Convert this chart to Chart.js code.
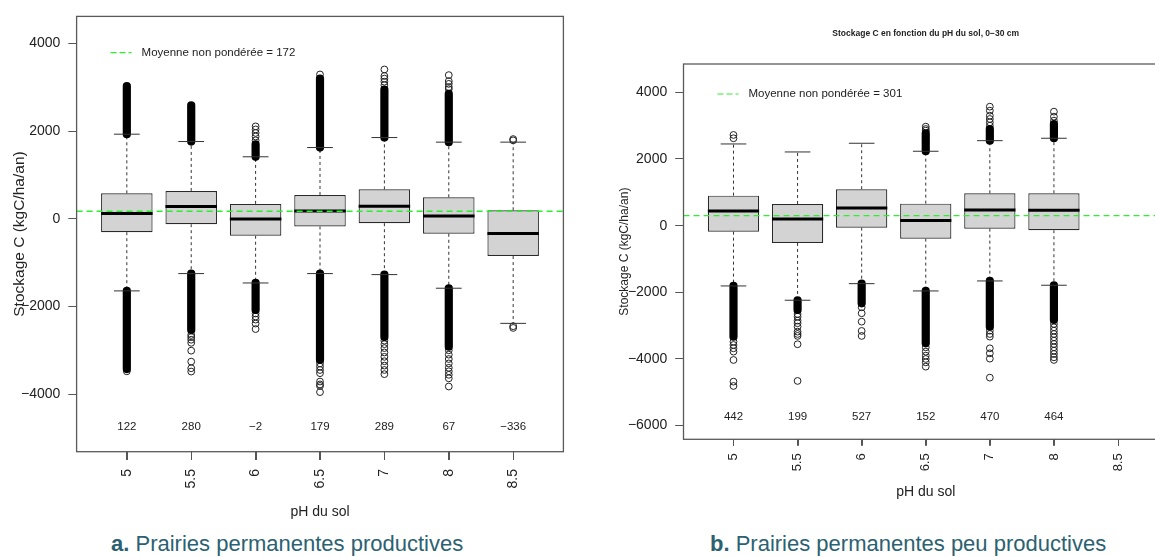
<!DOCTYPE html>
<html>
<head>
<meta charset="utf-8">
<script src="https://cdn.jsdelivr.net/npm/chart.js@4.4.1/dist/chart.umd.min.js"></script>
<style>
  body { margin: 0; width: 1155px; height: 557px; overflow: hidden; background: #fff; position: relative; font-family: "Liberation Sans", Arial, sans-serif; }
  canvas { position: absolute; top: 0; }
  #chartA { left: 0; }
  #chartB { left: 580px; }
  .caption { position: absolute; top: 533px; font-size: 22px; line-height: 22px; color: #2b6171; text-align: center; white-space: nowrap; }
</style>
</head>
<body>
<canvas id="chartA" width="580" height="530"></canvas>
<canvas id="chartB" width="600" height="510"></canvas>
<div class="caption" style="left:111px;width:350px"><b>a.</b> Prairies permanentes productives</div>
<div class="caption" style="left:710px;width:392px"><b>b.</b> Prairies permanentes peu productives</div>
<script>
// pH classes (x axis)
const phLabels = ['5', '5.5', '6', '6.5', '7', '8', '8.5'];

// a. Prairies permanentes productives
const q1A = [-305, -123, -386, -175, -100, -341, -850];
const medianA = [122, 280, -2, 179, 289, 67, -336];
const q3A = [582, 636, 341, 545, 673, 491, 195];
const whiskerLowA = [-1645, -1250, -1464, -1250, -1273, -1584, -2386];
const whiskerHighA = [1932, 1764, 1416, 1627, 1855, 1750, 1750];
// ranges where the outlier circles overlap into a solid stack
const denseHighA = [[1932, 3030], [1764, 2590], [1416, 1700], [1627, 3200], [1855, 2950], [1750, 2850], null];
const denseLowA = [[-1645, -3430], [-1250, -2540], [-1464, -2080], [-1250, -3220], [-1273, -2700], [-1584, -2920], null];
const outliersA = [
  [-3480],
  [-2650, -2700, -2760, -2830, -3009, -3259, -3410, -3486],
  [1790, 1880, 1960, 2040, 2110, -2160, -2230, -2300, -2390, -2516],
  [3295, -3300, -3373, -3450, -3523, -3714, -3780, -3814, -3955],
  [3050, 3130, 3200, 3260, 3409, -2780, -2860, -2950, -3050, -3150, -3250, -3350, -3450, -3545],
  [2960, 3007, 3080, 3144, 3280, -3000, -3100, -3200, -3300, -3400, -3480, -3560, -3640, -3827],
  [1790, 1820, -2450, -2490]
];
const meanA = 172;
const yTicksA = [-4000, -2000, 0, 2000, 4000];

// b. Prairies permanentes peu productives (no data for pH 8.5)
const q1B = [-180, -519, -60, -390, -90, -138];
const medianB = [442, 199, 527, 152, 470, 464];
const q3B = [900, 651, 1092, 660, 972, 972];
const whiskerLowB = [-1809, -2238, -1740, -1959, -1659, -1788];
const whiskerHighB = [2451, 2211, 2472, 2232, 2550, 2622];
const denseHighB = [null, null, null, [2232, 2770], [2550, 2900], [2622, 3050]];
const denseLowB = [[-1809, -3330], [-2238, -2529], [-1740, -2330], [-1959, -3530], [-1659, -3030], [-1788, -2830]];
const outliersB = [
  [2622, 2721, -3480, -3580, -3680, -3780, -4030, -4680, -4810],
  [-2650, -2730, -2850, -2928, -3030, -3180, -3250, -3309, -3558, -4659],
  [-2450, -2628, -2880, -3159, -3309],
  [2850, 2900, 2970, -3650, -3780, -3900, -4000, -4100, -4230],
  [3000, 3100, 3200, 3300, 3450, 3570, -3150, -3250, -3330, -3680, -3830, -3990, -4560],
  [3150, 3270, 3420, -2950, -3050, -3150, -3250, -3350, -3450, -3550, -3650, -3750, -3850, -3950, -4029]
];
const meanB = 301;
const yTicksB = [-6000, -4000, -2000, 0, 2000, 4000];

const X_MIN = 0.22, X_MAX = 7.78;
const FONT = '"Liberation Sans", Arial, sans-serif';
const INK = '#222';
const MEAN_GREEN = '#2cf02c';

Chart.defaults.font.family = FONT;
Chart.defaults.color = INK;

function fmt(v) {
  return v < 0 ? '\u2212' + Math.abs(v) : String(v);
}

// half of a width given in x units, in pixels
function halfPx(chart, units) {
  const x = chart.scales.x;
  return (x.getPixelForValue(1 + units) - x.getPixelForValue(1)) / 2;
}

// vertical segments at each category, separated by gaps
function segments(pairs) {
  const pts = [];
  pairs.forEach((p, i) => {
    if (!p) return;
    pts.push({ x: i + 1, y: p[0] }, { x: i + 1, y: p[1] }, { x: i + 1, y: null });
  });
  return pts;
}

const annotate = {
  id: 'annotate',
  afterDraw(chart, args, o) {
    const { ctx, chartArea: a, scales: { x, y } } = chart;
    ctx.save();
    // frame
    ctx.strokeStyle = '#5a5a5a';
    ctx.lineWidth = 1.3;
    ctx.strokeRect(a.left, a.top, a.right - a.left, a.bottom - a.top);
    // x tick marks under the frame
    ctx.strokeStyle = '#555';
    ctx.lineWidth = 1;
    x.ticks.forEach(t => {
      const px = Math.round(x.getPixelForValue(t.value)) + 0.5;
      ctx.beginPath();
      ctx.moveTo(px, a.bottom);
      ctx.lineTo(px, a.bottom + o.xTickLen);
      ctx.stroke();
    });
    // legend
    const ly = a.top + o.legendDy;
    ctx.strokeStyle = MEAN_GREEN;
    ctx.lineWidth = 1.2;
    ctx.setLineDash([6, 3]);
    ctx.beginPath();
    ctx.moveTo(a.left + 34, ly);
    ctx.lineTo(a.left + 55, ly);
    ctx.stroke();
    ctx.setLineDash([]);
    ctx.fillStyle = INK;
    ctx.font = '11.5px ' + FONT;
    ctx.textAlign = 'left';
    ctx.textBaseline = 'middle';
    ctx.fillText(o.legend, a.left + 65, ly);
    // medians written under the boxes
    ctx.textAlign = 'center';
    ctx.font = o.numSize + 'px ' + FONT;
    o.labels.forEach((t, i) => ctx.fillText(t, x.getPixelForValue(i + 1), y.getPixelForValue(o.labelY)));
    // title
    if (o.title) {
      ctx.font = 'bold 8.5px ' + FONT;
      ctx.fillText(o.title, (a.left + a.right) / 2, o.titleY);
    }
    ctx.restore();
  }
};

function boxChart(id, d, s) {
  const idx = d.q1.map((_, i) => i + 1);
  const whiskers = segments(idx.map((_, i) => [d.q3[i], d.hi[i]]))
    .concat(segments(idx.map((_, i) => [d.q1[i], d.lo[i]])));
  const outPts = [];
  d.out.forEach((list, i) => list.forEach(v => outPts.push({ x: i + 1, y: v })));

  return new Chart(document.getElementById(id), {
    type: 'bar',
    data: {
      datasets: [
        {
          type: 'line', order: 0,
          data: [{ x: X_MIN, y: d.mean }, { x: X_MAX, y: d.mean }],
          borderColor: MEAN_GREEN, borderWidth: 1.4, borderDash: [6, 4], pointRadius: 0
        },
        {
          type: 'line', order: 1, showLine: false,
          data: d.median.map((v, i) => ({ x: i + 1, y: v })),
          pointStyle: 'line', pointRadius: c => halfPx(c.chart, 0.8),
          borderColor: '#000', pointBorderColor: '#000', pointBorderWidth: 3
        },
        {
          type: 'line', order: 2, showLine: false,
          data: d.hi.map((v, i) => ({ x: i + 1, y: v })).concat(d.lo.map((v, i) => ({ x: i + 1, y: v }))),
          pointStyle: 'line', pointRadius: c => halfPx(c.chart, 0.4),
          pointBorderColor: '#333', pointBorderWidth: 1
        },
        {
          type: 'line', order: 2,
          data: segments(d.denseHi).concat(segments(d.denseLo)),
          borderColor: '#000', borderWidth: 8.2, borderCapStyle: 'round', pointRadius: 0, spanGaps: false
        },
        {
          type: 'line', order: 2, showLine: false,
          data: outPts,
          pointStyle: 'circle', pointRadius: 3.4, pointBorderWidth: 1,
          pointBorderColor: '#222', pointBackgroundColor: 'rgba(0,0,0,0)'
        },
        {
          type: 'bar', order: 3,
          data: d.q1.map((v, i) => ({ x: i + 1, y: [v, d.q3[i]] })),
          backgroundColor: '#d3d3d3', borderColor: '#2a2a2a', borderWidth: 1.2, borderSkipped: false,
          barPercentage: 0.8, categoryPercentage: 1, grouped: false
        },
        {
          type: 'line', order: 4,
          data: whiskers,
          borderColor: '#333', borderWidth: 1, borderDash: [3, 3], pointRadius: 0, spanGaps: false
        }
      ]
    },
    options: {
      responsive: false,
      animation: false,
      devicePixelRatio: 1,
      events: [],
      layout: { padding: { top: s.top, right: s.right, bottom: s.bottom, left: 0 } },
      plugins: {
        legend: { display: false },
        tooltip: { enabled: false },
        annotate: {
          legend: 'Moyenne non pondérée = ' + d.mean,
          legendDy: s.legendDy,
          labels: d.median.map(fmt),
          labelY: s.labelY,
          numSize: s.numSize,
          xTickLen: s.xTickLen,
          title: s.title,
          titleY: s.titleY
        }
      },
      scales: {
        x: {
          type: 'linear', min: X_MIN, max: X_MAX, offset: false,
          afterBuildTicks: ax => { ax.ticks = phLabels.map((_, i) => ({ value: i + 1 })); },
          afterFit: ax => { ax.height = s.xHeight; },
          ticks: {
            autoSkip: false, minRotation: 90, maxRotation: 90, padding: s.xPad,
            font: { size: s.xTickSize }, color: INK,
            callback: (v, i) => phLabels[i]
          },
          grid: { offset: false, drawOnChartArea: false, tickLength: s.xTickLen, tickColor: '#555', tickWidth: 1 },
          border: { display: false },
          title: { display: true, text: 'pH du sol', color: INK, font: { size: 14 }, padding: { top: 0, bottom: 0 } }
        },
        y: {
          min: s.yMin, max: s.yMax, beginAtZero: false,
          afterBuildTicks: ax => { ax.ticks = s.yTicks.map(v => ({ value: v })); },
          afterFit: ax => { ax.width = s.yWidth; },
          ticks: { padding: 8, font: { size: 14 }, color: INK, callback: v => fmt(v) },
          grid: { drawOnChartArea: false, tickLength: 8.3, tickColor: '#555', tickWidth: 1 },
          border: { display: false },
          title: {
            display: true, text: 'Stockage C (kgC/ha/an)', color: INK,
            font: { size: s.yTitleSize }, padding: { top: s.yTitlePad, bottom: 0 }
          }
        }
      }
    },
    plugins: [annotate]
  });
}

boxChart('chartA',
  { q1: q1A, median: medianA, q3: q3A, lo: whiskerLowA, hi: whiskerHighA,
    denseHi: denseHighA, denseLo: denseLowA, out: outliersA, mean: meanA },
  { top: 15, right: 16.6, bottom: 9.6, yWidth: 76.6, xHeight: 68.7,
    yMin: -5315, yMax: 4620, yTicks: yTicksA,
    xTickSize: 14, xTickLen: 8.3, xPad: 9,
    yTitleSize: 15.5, yTitlePad: 10.2,
    legendDy: 36.3, labelY: -4750, numSize: 11.5, title: null });

boxChart('chartB',
  { q1: q1B, median: medianB, q3: q3B, lo: whiskerLowB, hi: whiskerHighB,
    denseHi: denseHighB, denseLo: denseLowB, out: outliersB, mean: meanB },
  { top: 64, right: 12, bottom: 9.6, yWidth: 103.5, xHeight: 61.1,
    yMin: -6410, yMax: 4850, yTicks: yTicksB,
    xTickSize: 13, xTickLen: 6.5, xPad: 7.5,
    yTitleSize: 12, yTitlePad: 37.8,
    legendDy: 30, labelY: -5750, numSize: 11.5,
    title: 'Stockage C en fonction du pH du sol, 0\u221230 cm', titleY: 33.7 });
</script>
</body>
</html>
